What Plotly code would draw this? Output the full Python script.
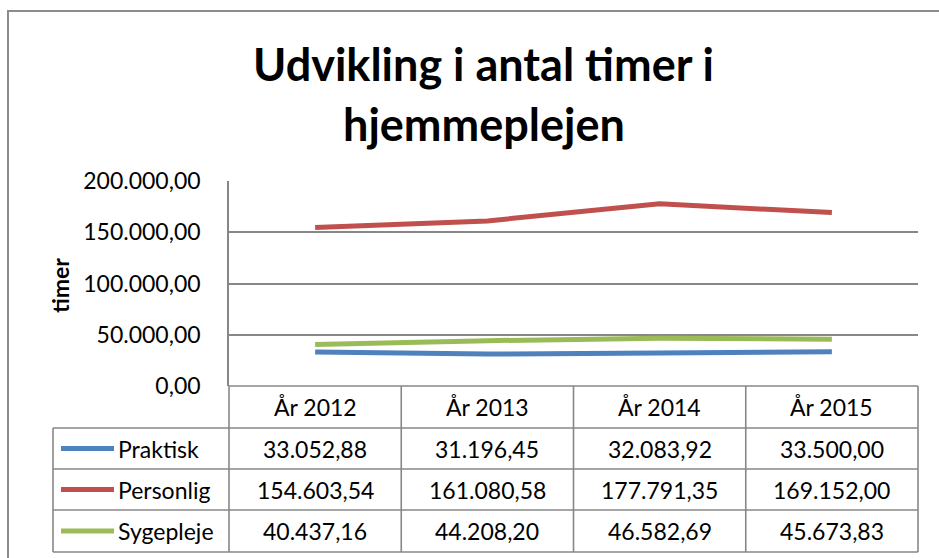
import plotly.graph_objects as go

# ---------------- data ----------------
categories = ["År 2012", "År 2013", "År 2014", "År 2015"]
series_names = ["Praktisk", "Personlig", "Sygepleje"]
praktisk = [33052.88, 31196.45, 32083.92, 33500.00]
personlig = [154603.54, 161080.58, 177791.35, 169152.00]
sygepleje = [40437.16, 44208.20, 46582.69, 45673.83]
series_values = [praktisk, personlig, sygepleje]
series_colors = ["#4F81BD", "#C0504D", "#9BBB59"]
y_ticks = [0, 50000, 100000, 150000, 200000]
title_lines = ["Udvikling i antal timer i", "hjemmeplejen"]
y_title = "timer"

# ---------------- layout constants (pixels) ----------------
W, H = 939, 558
PL, PR, PT, PB = 229, 918, 181, 386      # plot area
LEG_L = 53                                # left edge of legend column in table
ROW_EDGES = [386, 428, 469, 510, 552]     # header + 3 rows
TITLE_Y = [64, 124]
FONT = "Lato, 'Open Sans', sans-serif"
GRID = "#878787"
TXT = 23


def px(x):
    return x / W


def py(y):
    return 1 - y / H


def fmt_dk(v):
    s = f"{v:,.2f}"
    return s.replace(",", "X").replace(".", ",").replace("X", ".")


fig = go.Figure()
for name, vals, col in zip(series_names, series_values, series_colors):
    fig.add_trace(go.Scatter(
        x=categories, y=vals, mode="lines", name=name,
        line=dict(color=col, width=5), showlegend=False, hoverinfo="skip",
    ))

shapes = []
annotations = []

# outer chart border
shapes.append(dict(type="rect", xref="paper", yref="paper",
                   x0=px(8), x1=px(W + 40), y0=py(11), y1=py(H + 40),
                   line=dict(color="#8c8c8c", width=2), fillcolor="rgba(0,0,0,0)",
                   layer="below"))

# table grid
colw = (PR - PL) / len(categories)
col_edges = [PL + i * colw for i in range(len(categories) + 1)]
line_style = dict(color=GRID, width=1.6)
for i, yy in enumerate(ROW_EDGES):
    x_start = PL if i == 0 else LEG_L
    shapes.append(dict(type="line", xref="paper", yref="paper",
                       x0=px(x_start), x1=px(PR), y0=py(yy), y1=py(yy), line=line_style))
shapes.append(dict(type="line", xref="paper", yref="paper",
                   x0=px(LEG_L), x1=px(LEG_L), y0=py(ROW_EDGES[1]), y1=py(ROW_EDGES[-1]),
                   line=line_style))
for xx in col_edges:
    shapes.append(dict(type="line", xref="paper", yref="paper",
                       x0=px(xx), x1=px(xx), y0=py(ROW_EDGES[0]), y1=py(ROW_EDGES[-1]),
                       line=line_style))

# header texts
hy = (ROW_EDGES[0] + ROW_EDGES[1]) / 2
for i, cat in enumerate(categories):
    cx = (col_edges[i] + col_edges[i + 1]) / 2
    annotations.append(dict(x=px(cx), y=py(hy), xref="paper", yref="paper",
                            text=cat, showarrow=False, xanchor="center", yanchor="middle",
                            font=dict(family=FONT, size=TXT, color="#000")))

# rows
for r, (name, vals, col) in enumerate(zip(series_names, series_values, series_colors)):
    ry = (ROW_EDGES[r + 1] + ROW_EDGES[r + 2]) / 2
    shapes.append(dict(type="line", xref="paper", yref="paper",
                       x0=px(61), x1=px(114), y0=py(ry), y1=py(ry),
                       line=dict(color=col, width=5)))
    annotations.append(dict(x=px(116), y=py(ry), xref="paper", yref="paper",
                            text=name, showarrow=False, xanchor="left", yanchor="middle",
                            font=dict(family=FONT, size=TXT, color="#000")))
    for i, v in enumerate(vals):
        cx = (col_edges[i] + col_edges[i + 1]) / 2
        annotations.append(dict(x=px(cx), y=py(ry), xref="paper", yref="paper",
                                text=fmt_dk(v), showarrow=False, xanchor="center",
                                yanchor="middle",
                                font=dict(family=FONT, size=TXT, color="#000")))

# title
for line, ty in zip(title_lines, TITLE_Y):
    annotations.append(dict(x=px(484), y=py(ty), xref="paper", yref="paper",
                            text="<b>" + line + "</b>", showarrow=False,
                            xanchor="center", yanchor="middle",
                            font=dict(family=FONT, size=45, color="#000")))
# y axis title
annotations.append(dict(x=px(60), y=py(286), xref="paper", yref="paper",
                        text="<b>" + y_title + "</b>", showarrow=False, textangle=-90,
                        xanchor="center", yanchor="middle",
                        font=dict(family=FONT, size=23, color="#000")))

fig.update_layout(
    width=W, height=H,
    margin=dict(l=0, r=0, t=0, b=0, pad=0),
    paper_bgcolor="white", plot_bgcolor="white",
    separators=",.",
    showlegend=False,
    shapes=shapes, annotations=annotations,
    xaxis=dict(domain=[px(PL), px(PR)], range=[-0.5, 3.5], type="category",
               showticklabels=False, showgrid=False, zeroline=False, showline=False,
               ticks="", automargin=False),
    yaxis=dict(domain=[py(PB), py(PT)], range=[0, 200000], tickvals=y_ticks,
               tickformat=",.2f", showgrid=True, gridcolor=GRID, gridwidth=1.6,
               zeroline=False, showline=True, linecolor=GRID, linewidth=1.6,
               ticks="", ticklabelstandoff=22, automargin=False,
               tickfont=dict(family=FONT, size=TXT, color="#000")),
)

fig.write_html("out.html", config={"displayModeBar": False},
               post_script="document.body.style.margin='0';")
